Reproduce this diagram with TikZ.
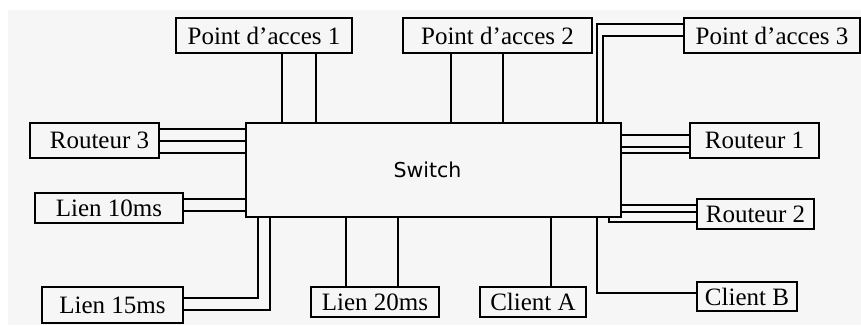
\documentclass[tikz,border=0pt]{standalone}
\usepackage{fontspec}
\setmainfont{Liberation Serif}
\newfontfamily\swfont{DejaVu Sans}
\definecolor{bgc}{HTML}{F6F6F6}
\newcommand{\apos}{{\char"0027}}
\begin{document}
\begin{tikzpicture}[x=1pt,y=-1pt,
  box/.style={draw=black,line width=1.6pt,fill=bgc,inner sep=0pt,font=\fontsize{25}{25}\selectfont},
  wire/.style={draw=black,line width=1.6pt}]
\useasboundingbox (0,0) rectangle (861,325);
\fill[bgc] (8,10) rectangle (861,325);
% nodes
\node[box,minimum width=375pt,minimum height=94pt,font=\swfont\fontsize{20.5}{20.5}\selectfont] (sw) at (433.5,170) {\hspace*{-12pt}Switch};
\node[box,minimum width=176pt,minimum height=35pt] (pa1) at (264,35.5) {Point d\apos acces 1};
\node[box,minimum width=189pt,minimum height=35pt] (pa2) at (497.5,35.5) {Point d\apos acces 2};
\node[box,minimum width=176pt,minimum height=35pt] (pa3) at (772,35.5) {Point d\apos acces 3};
\node[box,minimum width=129pt,minimum height=35pt] (r3) at (94.5,140.5) {\hspace*{10pt}Routeur 3};
\node[box,minimum width=129pt,minimum height=35pt] (r1) at (754.5,140.5) {Routeur 1};
\node[box,minimum width=148pt,minimum height=30pt] (l10) at (109,208) {Lien 10ms};
\node[box,minimum width=117pt,minimum height=30pt] (r2) at (755.5,214) {Routeur 2};
\node[box,minimum width=141pt,minimum height=36pt] (l15) at (112.5,305) {Lien 15ms};
\node[box,minimum width=128pt,minimum height=30pt] (l20) at (375,302) {Lien 20ms};
\node[box,minimum width=106pt,minimum height=30pt] (ca) at (533,302) {Client A};
\node[box,minimum width=100pt,minimum height=29pt] (cb) at (747,296.5) {Client B};
% connectors
\foreach \dx in {18,52}
  \draw[wire] ([xshift=\dx]pa1.south) -- ([xshift=\dx]pa1.south |- sw.north);
\foreach \dx in {-46.5,5.5}
  \draw[wire] ([xshift=\dx]pa2.south) -- ([xshift=\dx]pa2.south |- sw.north);
\draw[wire] ([yshift=11.5]pa3.west) -| ([xshift=163.5]sw.north);
\draw[wire] ([yshift=-0.5]pa3.west) -| ([xshift=169.5]sw.north);
\foreach \dy in {11.5,-0.5,-12.5}
  \draw[wire] ([yshift=\dy]r3.east) -- ([yshift=\dy]r3.east -| sw.west);
\foreach \dy in {5.5,-6.5,-12.5}
  \draw[wire] ([yshift=\dy]r1.west) -- ([yshift=\dy]r1.west -| sw.east);
\foreach \dy in {9,-3}
  \draw[wire] ([yshift=\dy]l10.east) -- ([yshift=\dy]l10.east -| sw.west);
\foreach \dy in {9,2}
  \draw[wire] ([yshift=\dy]r2.west) -- ([yshift=\dy]r2.west -| sw.east);
\draw[wire] ([xshift=175.5]sw.south) |- ([yshift=-8]r2.west);
\draw[wire] ([xshift=-175.5]sw.south) |- ([yshift=7]l15.east);
\draw[wire] ([xshift=-163.5]sw.south) |- ([yshift=-5]l15.east);
\foreach \dx in {-29,23}
  \draw[wire] ([xshift=\dx]l20.north) -- ([xshift=\dx]l20.north |- sw.south);
\draw[wire] ([xshift=18]ca.north) -- ([xshift=18]ca.north |- sw.south);
\draw[wire] ([xshift=163.5]sw.south) |- ([yshift=3.5]cb.west);
\end{tikzpicture}
\end{document}
